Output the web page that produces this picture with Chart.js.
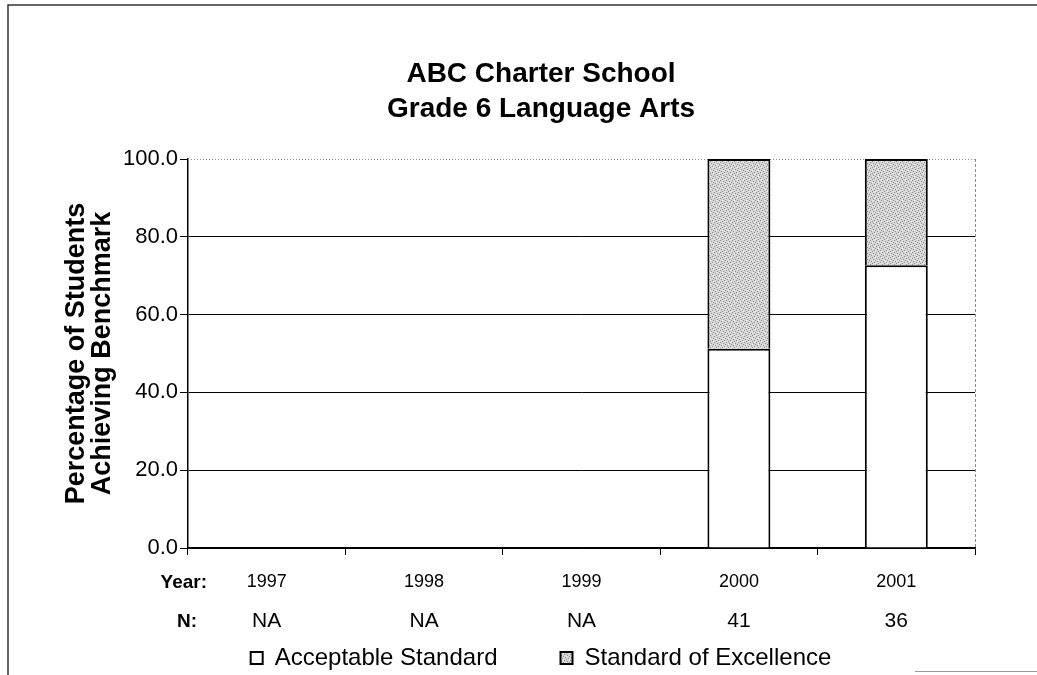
<!DOCTYPE html>
<html>
<head>
<meta charset="utf-8">
<script src="https://cdn.jsdelivr.net/npm/chart.js@4"></script>
<style>
  html, body { margin: 0; padding: 0; background: #fff; }
  #wrap { width: 1037px; height: 675px; }
</style>
</head>
<body>
<div id="wrap"><canvas id="chart" width="1037" height="675"></canvas></div>
<script>
// Chart data
const years = ['1997', '1998', '1999', '2000', '2001'];
const nCounts = ['NA', 'NA', 'NA', '41', '36'];
const acceptable = [null, null, null, 51.2, 72.7];
const excellence = [null, null, null, 48.8, 27.3];
const yTickValues = [0, 20, 40, 60, 80, 100];
const seriesNames = ['Acceptable Standard', 'Standard of Excellence'];

const FONT = "'Liberation Sans', Arial, sans-serif";

// stippled grey fill like the printed chart
function makeStipple() {
    const c = document.createElement('canvas');
    c.width = 6; c.height = 6;
    const g = c.getContext('2d');
    g.fillStyle = '#d6d6d6';
    g.fillRect(0, 0, 6, 6);
    g.fillStyle = '#8f8f8f';
    [[0, 0], [3, 1], [1, 3], [4, 4], [5, 2], [2, 5]].forEach(p => g.fillRect(p[0], p[1], 1, 1));
    g.fillStyle = '#f4f4f4';
    [[2, 2], [5, 5]].forEach(p => g.fillRect(p[0], p[1], 1, 1));
    return g.createPattern(c, 'repeat');
}

const ctx = document.getElementById('chart').getContext('2d');
const stipple = makeStipple();

// year / N rows, plot frame and page border
const extrasPlugin = {
    id: 'extras',
    afterLayout(chart) {
        const lg = chart.legend;
        if (lg) { lg.top += 5; lg.bottom += 5; }
    },
    beforeDatasetsDraw(chart) {
        const a = chart.chartArea;
        const c = chart.ctx;
        c.save();
        c.strokeStyle = '#8c8c8c';
        c.lineWidth = 1;
        c.setLineDash([1, 2]);
        c.beginPath();
        c.moveTo(a.left, a.top + 0.5);
        c.lineTo(a.right, a.top + 0.5);
        c.stroke();
        c.setLineDash([3, 2]);
        c.beginPath();
        c.moveTo(a.right + 0.5, a.top);
        c.lineTo(a.right + 0.5, a.bottom);
        c.stroke();
        c.restore();
    },
    afterDraw(chart) {
        const c = chart.ctx;
        const a = chart.chartArea;
        const x = chart.scales.x;
        c.save();
        c.fillStyle = '#000';
        c.textBaseline = 'middle';
        c.font = 'bold 19px ' + FONT;
        c.textAlign = 'right';
        c.fillText('Year:', a.left + 19, 583);
        c.fillText('N:', a.left + 9, 622);
        c.textAlign = 'center';
        c.font = '18px ' + FONT;
        years.forEach((y, i) => c.fillText(y, x.getPixelForValue(i), 582));
        c.font = '21px ' + FONT;
        nCounts.forEach((n, i) => c.fillText(n, x.getPixelForValue(i), 621));

        // page border
        c.strokeStyle = '#333';
        c.lineWidth = 1.5;
        c.beginPath();
        c.moveTo(8, 675);
        c.lineTo(8, 5);
        c.lineTo(1037, 5);
        c.stroke();
        c.strokeStyle = '#999';
        c.lineWidth = 1;
        c.beginPath();
        c.moveTo(915, 671.5);
        c.lineTo(1037, 671.5);
        c.stroke();
        c.restore();
    }
};

new Chart(ctx, {
    type: 'bar',
    data: {
        labels: years,
        datasets: [{
            label: seriesNames[0],
            data: acceptable,
            backgroundColor: '#ffffff',
            borderColor: '#000000',
            borderWidth: 2
        }, {
            label: seriesNames[1],
            data: excellence,
            backgroundColor: stipple,
            borderColor: '#000000',
            borderWidth: 2
        }]
    },
    options: {
        responsive: false,
        animation: false,
        layout: {
            padding: { left: 45, right: 0, top: 0, bottom: 0 }
        },
        datasets: {
            bar: { categoryPercentage: 1, barPercentage: 0.4 }
        },
        plugins: {
            title: {
                display: true,
                text: ['ABC Charter School', 'Grade 6 Language Arts'],
                color: '#000',
                font: { family: FONT, size: 28, weight: 'bold', lineHeight: 35 / 28 },
                padding: { top: 57, bottom: 32 }
            },
            legend: {
                position: 'bottom',
                labels: {
                    color: '#000',
                    font: { family: FONT, size: 24 },
                    boxWidth: 12,
                    boxHeight: 12,
                    padding: 63
                }
            },
            tooltip: { enabled: false }
        },
        scales: {
            x: {
                stacked: true,
                grid: {
                    drawOnChartArea: false,
                    drawTicks: true,
                    tickLength: 7,
                    color: '#000',
                    tickColor: '#000'
                },
                border: { display: true, color: '#000', width: 1.5 },
                ticks: { display: false },
                afterFit(scale) {
                    scale.paddingRight = 62;
                    scale.height = 30;
                }
            },
            y: {
                stacked: true,
                min: 0,
                max: 100,
                afterBuildTicks(scale) {
                    scale.ticks = yTickValues.map(v => ({ value: v }));
                },
                grid: {
                    color: c => (c.tick && c.tick.value === 100) ? 'rgba(0,0,0,0)' : '#000',
                    tickColor: '#000',
                    tickLength: 8,
                    lineWidth: 1
                },
                border: { display: true, color: '#000', width: 1.5 },
                ticks: {
                    color: '#000',
                    font: { family: FONT, size: 22 },
                    padding: 2,
                    callback: v => Number(v).toFixed(1)
                },
                title: {
                    display: true,
                    text: ['Percentage of Students', 'Achieving Benchmark'],
                    color: '#000',
                    font: { family: FONT, size: 27, weight: 'bold', lineHeight: 0.95 },
                    padding: { top: 19, bottom: 0 }
                },
                afterFit(scale) {
                    scale.width = 143;
                }
            }
        }
    },
    plugins: [extrasPlugin]
});
</script>
</body>
</html>
